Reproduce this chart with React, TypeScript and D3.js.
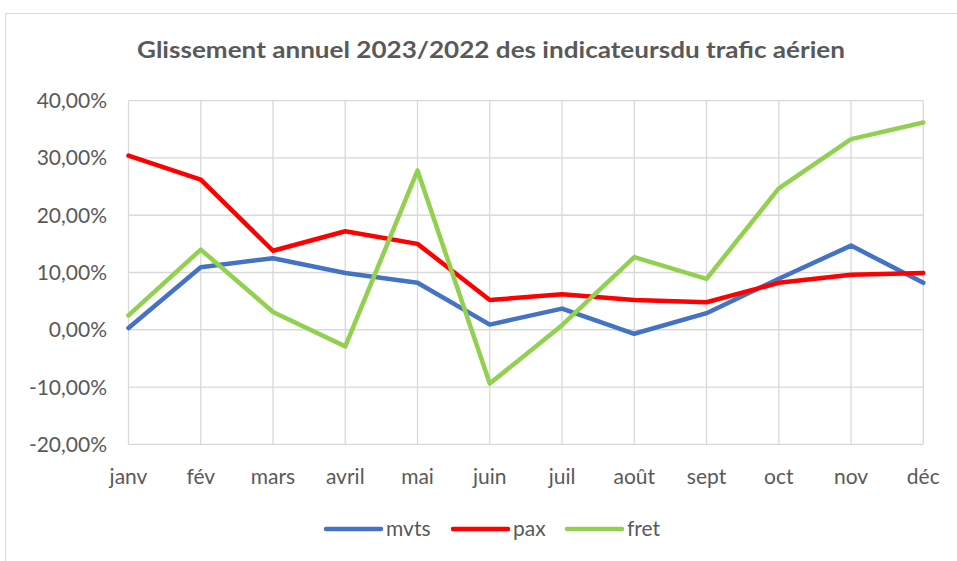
import React from "react";
import * as d3 from "d3";

const months = ["janv", "fév", "mars", "avril", "mai", "juin", "juil", "août", "sept", "oct", "nov", "déc"];
const mvts = [0.3, 10.9, 12.5, 9.9, 8.2, 0.9, 3.7, -0.7, 2.9, 8.9, 14.7, 8.2];
const pax = [30.4, 26.2, 13.8, 17.2, 15.0, 5.2, 6.2, 5.2, 4.8, 8.2, 9.6, 9.9];
const fret = [2.5, 14.0, 3.1, -2.9, 27.8, -9.4, 0.8, 12.7, 8.9, 24.7, 33.3, 36.2];
const yTicks = [-20, -10, 0, 10, 20, 30, 40];
const seriesNames = ["mvts", "pax", "fret"];
const seriesColors = ["#4472C4", "#FF0000", "#92D050"];

const W = 957;
const H = 561;
const FONT = "Lato, 'Open Sans', sans-serif";

export default function App() {
  const x = d3.scalePoint<string>().domain(months).range([128.5, 923.3]);
  const y = d3.scaleLinear().domain([-20, 40]).range([444.3, 100.7]);
  const line = d3
    .line<number>()
    .x((_, i) => x(months[i]) as number)
    .y((d) => y(d));
  const data = [mvts, pax, fret];
  const fmt = (v: number) => v.toFixed(2).replace(".", ",") + "%";
  const legendX = [326, 453, 567];

  return (
    <svg width={W} height={H} style={{ position: "absolute", left: 0, top: 0, background: "#fff" }}>
      <rect x={5.5} y={13.5} width={W} height={H} fill="#fff" stroke="#d9d9d9" strokeWidth={1} />
      <text
        x={137}
        y={58}
        textLength={708}
        lengthAdjust="spacingAndGlyphs"
        fontFamily={FONT}
        fontWeight="bold"
        fontSize={22}
        fill="#595959"
      >
        Glissement annuel 2023/2022 des indicateursdu trafic aérien
      </text>
      {yTicks.map((t) => (
        <g key={t}>
          <line x1={128.5} x2={923.3} y1={y(t)} y2={y(t)} stroke="#d9d9d9" strokeWidth={1.3} />
          <text x={107} y={y(t) + 7.5} textAnchor="end" fontFamily={FONT} fontSize={21} fill="#595959">
            {fmt(t)}
          </text>
        </g>
      ))}
      {months.map((m) => (
        <g key={m}>
          <line x1={x(m)} x2={x(m)} y1={100.7} y2={444.3} stroke="#d9d9d9" strokeWidth={1.3} />
          <text x={x(m)} y={484} textAnchor="middle" fontFamily={FONT} fontSize={21} fill="#595959">
            {m}
          </text>
        </g>
      ))}
      {data.map((d, i) => (
        <path
          key={i}
          d={line(d) || ""}
          fill="none"
          stroke={seriesColors[i]}
          strokeWidth={4.5}
          strokeLinejoin="round"
          strokeLinecap="round"
        />
      ))}
      {seriesNames.map((n, i) => (
        <g key={n}>
          <line x1={legendX[i]} x2={legendX[i] + 55} y1={529} y2={529} stroke={seriesColors[i]} strokeWidth={4.5} strokeLinecap="round" />
          <text x={legendX[i] + 60} y={536} fontFamily={FONT} fontSize={21} fill="#595959">
            {n}
          </text>
        </g>
      ))}
    </svg>
  );
}
